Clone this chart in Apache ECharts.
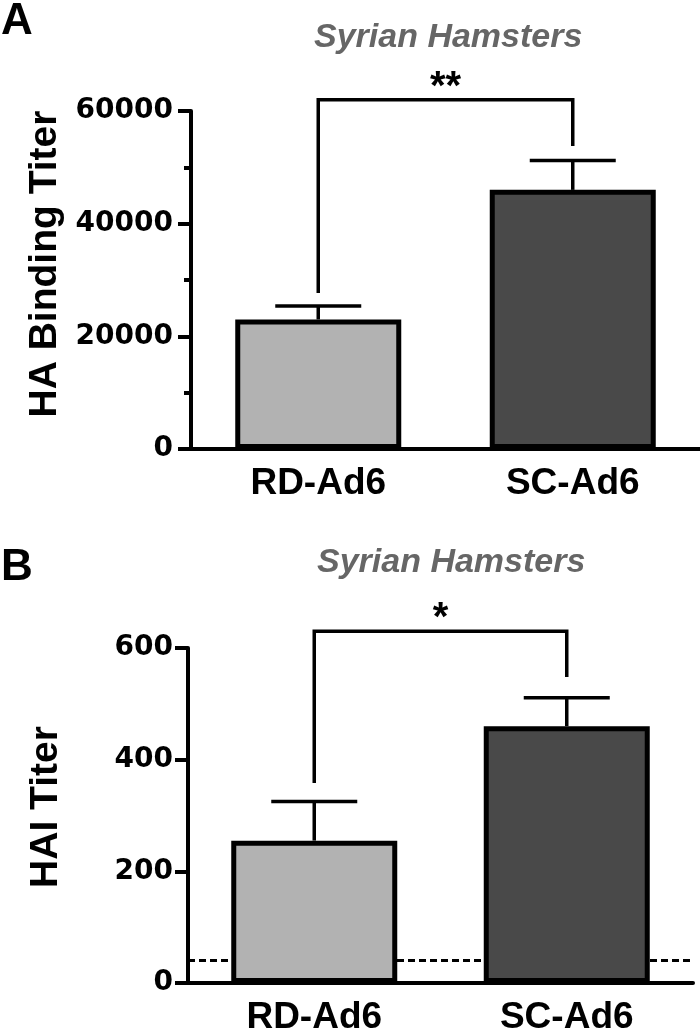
<!DOCTYPE html>
<html>
<head>
<meta charset="utf-8">
<title>Syrian Hamsters HA / HAI titers</title>
<script src="https://cdn.jsdelivr.net/npm/echarts@6/dist/echarts.min.js"></script>
<style>
  html, body { margin: 0; padding: 0; background: #fff; }
  #chart { width: 700px; height: 1036px; }
</style>
</head>
<body>
<div id="chart"></div>
<script>
// data
const categories = ['RD-Ad6', 'SC-Ad6'];
const barColors = ['#b2b2b2', '#494949'];

// panel A: HA binding titer
const haMeans = [23000, 46000];
const haErrTop = [25400, 51200];
const haTicks = [0, 20000, 40000, 60000];
const haBracket = [27700, 62000, 53800]; // left leg end, top, right leg end
const haSignif = '**';

// panel B: HAI titer
const haiMeans = [255, 460];
const haiErrTop = [325, 511];
const haiTicks = [0, 200, 400, 600];
const haiBracket = [358, 630, 548];
const haiSignif = '*';
const haiLimit = 40;

const font = 'Liberation Sans';
const tickFont = 'DejaVu Sans';

const chart = echarts.init(document.getElementById('chart'));

function barData(means) {
  return means.map((v, i) => ({
    value: v,
    itemStyle: { color: barColors[i] }
  }));
}

function renderErr(params, api) {
  const base = api.coord([api.value(0), api.value(1)]);
  const top = api.coord([api.value(0), api.value(2)]);
  const hw = 43;
  return {
    type: 'group',
    children: [
      { type: 'line', shape: { x1: top[0], y1: base[1], x2: top[0], y2: top[1] },
        style: { stroke: '#000', lineWidth: 3.5 } },
      { type: 'line', shape: { x1: top[0] - hw, y1: top[1], x2: top[0] + hw, y2: top[1] },
        style: { stroke: '#000', lineWidth: 3.5 } }
    ]
  };
}

function bracketRenderer(label) {
  return function (params, api) {
    const a = api.coord([0, api.value(0)]);
    const t0 = api.coord([0, api.value(1)]);
    const t1 = api.coord([1, api.value(1)]);
    const b = api.coord([1, api.value(2)]);
    return {
      type: 'group',
      children: [
        { type: 'polyline',
          shape: { points: [a, t0, t1, b] },
          style: { stroke: '#000', lineWidth: 3.5, fill: null, lineJoin: 'miter' } },
        { type: 'text', x: (t0[0] + t1[0]) / 2, y: t0[1] - 12,
          style: { text: label, align: 'center', verticalAlign: 'middle',
                   font: 'bold 40px "' + font + '"', fill: '#000' } }
      ]
    };
  };
}

function xAxisFor(gridIndex) {
  return {
    type: 'category',
    gridIndex: gridIndex,
    data: categories,
    axisLine: { lineStyle: { color: '#000', width: 4 } },
    axisTick: { alignWithLabel: true, length: 11, lineStyle: { color: '#000', width: 4 } },
    axisLabel: { margin: 16, color: '#000', fontSize: 37, fontWeight: 'bold', fontFamily: font },
    splitLine: { show: false }
  };
}

function yAxisFor(gridIndex, ticks, name, nameGap, pad, labelMargin, minor) {
  return {
    type: 'value',
    gridIndex: gridIndex,
    min: ticks[0],
    max: ticks[ticks.length - 1],
    interval: ticks[1] - ticks[0],
    name: name,
    nameLocation: 'middle',
    nameGap: nameGap,
    nameTextStyle: { color: '#000', fontSize: 39, fontWeight: 'bold', fontFamily: font, padding: [0, 0, 0, pad] },
    axisLine: { show: true, lineStyle: { color: '#000', width: 4 } },
    axisTick: { show: true, length: 13, lineStyle: { color: '#000', width: 4 } },
    minorTick: { show: minor, splitNumber: 2, length: 7, lineStyle: { color: '#000', width: 4 } },
    axisLabel: { margin: labelMargin, color: '#000', fontSize: 28, fontWeight: 'bold', fontFamily: tickFont,
                 formatter: v => String(v) },
    splitLine: { show: false },
    minorSplitLine: { show: false }
  };
}

const titleText = (text, left, top, size, italic, color) => ({
  text: text, left: left, top: top, padding: 0,
  textStyle: { fontSize: size, fontWeight: 'bold', fontStyle: italic ? 'italic' : 'normal',
               color: color, fontFamily: font }
});

const option = {
  animation: false,
  backgroundColor: '#fff',
  title: [
    titleText('A', 1, 0, 44, false, '#000'),
    titleText('Syrian Hamsters', 314, 21, 34, true, '#666'),
    titleText('B', 1, 546, 44, false, '#000'),
    titleText('Syrian Hamsters', 317, 546, 34, true, '#666')
  ],
  grid: [
    { left: 191, right: 0, top: 111, height: 338 },
    { left: 188, right: 7, top: 648, height: 337 }
  ],
  xAxis: [xAxisFor(0), xAxisFor(1)],
  yAxis: [
    yAxisFor(0, haTicks, 'HA Binding Titer', 125, 32, 18, true),
    yAxisFor(1, haiTicks, 'HAI Titer', 122, 17, 15, false)
  ],
  series: [
    {
      type: 'bar', xAxisIndex: 0, yAxisIndex: 0, z: 2,
      barWidth: 166,
      data: barData(haMeans),
      itemStyle: { borderColor: '#000', borderWidth: 5 }
    },
    {
      type: 'custom', xAxisIndex: 0, yAxisIndex: 0, z: 1,
      renderItem: renderErr,
      data: haMeans.map((v, i) => [i, v, haErrTop[i]])
    },
    {
      type: 'custom', xAxisIndex: 0, yAxisIndex: 0, z: 3, clip: false,
      renderItem: bracketRenderer(haSignif),
      data: [haBracket]
    },
    {
      type: 'bar', xAxisIndex: 1, yAxisIndex: 1, z: 2,
      barWidth: 166,
      data: barData(haiMeans),
      itemStyle: { borderColor: '#000', borderWidth: 5 },
      markLine: {
        z: 1,
        silent: true,
        symbol: 'none',
        label: { show: false },
        lineStyle: { color: '#000', width: 3, type: [7, 4] },
        data: [{ yAxis: haiLimit }]
      }
    },
    {
      type: 'custom', xAxisIndex: 1, yAxisIndex: 1, z: 1,
      renderItem: renderErr,
      data: haiMeans.map((v, i) => [i, v, haiErrTop[i]])
    },
    {
      type: 'custom', xAxisIndex: 1, yAxisIndex: 1, z: 3, clip: false,
      renderItem: bracketRenderer(haiSignif),
      data: [haiBracket]
    }
  ]
};

chart.setOption(option);
</script>
</body>
</html>
